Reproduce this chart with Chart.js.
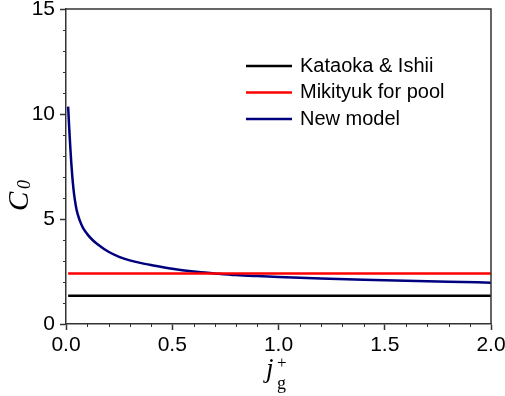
<!DOCTYPE html>
<html>
<head>
<meta charset="utf-8">
<script src="https://cdn.jsdelivr.net/npm/chart.js@4"></script>
<style>
    body { margin: 0; background: #fff; }
    #wrap { width: 505px; height: 396px; }
</style>
</head>
<body>
<div id="wrap"><canvas id="mychart" width="505" height="396"></canvas></div>
<script>
const jgPlus = [0.01, 0.0125, 0.015, 0.02, 0.025, 0.03, 0.035, 0.04, 0.05, 0.065, 0.08, 0.1, 0.125, 0.15, 0.2, 0.25,
    0.3, 0.35, 0.4, 0.5, 0.6, 0.7, 0.8, 0.9, 1.0, 1.2, 1.4, 1.6, 1.8, 2.0];
const newModel = [10.35, 9.85, 9.35, 8.45, 7.65, 6.98, 6.45, 6.03, 5.43, 4.92, 4.58, 4.28, 4.0, 3.79, 3.44, 3.2,
    3.03, 2.91, 2.81, 2.63, 2.5, 2.41, 2.33, 2.28, 2.24, 2.165, 2.105, 2.055, 2.01, 1.97];

const constX = [0.01, 2.0];
const kataokaIshii = [1.35, 1.35];
const mikityukPool = [2.4, 2.4];

const seriesLabels = ['Kataoka & Ishii', 'Mikityuk for pool', 'New model'];
const seriesColors = ['#000000', '#ff0000', '#00007f'];

const xTicks = [0.0, 0.5, 1.0, 1.5, 2.0];
const yTicks = [0, 5, 10, 15];

const toPoints = (xs, ys) => xs.map((x, i) => ({ x: x, y: ys[i] }));

const axisColor = '#333333';
const sansFont = '"Liberation Sans", Arial, sans-serif';
const serifFont = '"Liberation Serif", "Times New Roman", serif';

// top/right frame, minor ticks, legend, axis titles
const extrasPlugin = {
    id: 'extras',
    afterDraw: (chart) => {
        const ctx = chart.ctx;
        const area = chart.chartArea;
        const xs = chart.scales.x;
        const ys = chart.scales.y;
        ctx.save();

        ctx.strokeStyle = axisColor;
        ctx.lineWidth = 1.5;
        ctx.beginPath();
        ctx.moveTo(area.left, area.top);
        ctx.lineTo(area.right, area.top);
        ctx.lineTo(area.right, area.bottom);
        ctx.stroke();

        // minor ticks
        ctx.lineWidth = 1;
        ctx.beginPath();
        for (let v = 0.1; v < 2.0; v += 0.1) {
            if (Math.abs(v * 2 - Math.round(v * 2)) < 1e-6) continue;
            const px = Math.round(xs.getPixelForValue(v)) + 0.5;
            ctx.moveTo(px, area.bottom);
            ctx.lineTo(px, area.bottom + 3);
        }
        for (let v = 1; v < 15; v++) {
            if (v % 5 === 0) continue;
            const py = Math.round(ys.getPixelForValue(v)) + 0.5;
            ctx.moveTo(area.left, py);
            ctx.lineTo(area.left - 3, py);
        }
        ctx.stroke();

        // legend
        ctx.font = '20px ' + sansFont;
        ctx.textBaseline = 'middle';
        ctx.textAlign = 'left';
        chart.data.datasets.forEach((ds, i) => {
            const y = 66 + i * 26.5;
            ctx.strokeStyle = ds.borderColor;
            ctx.lineWidth = 2.5;
            ctx.beginPath();
            ctx.moveTo(246, y);
            ctx.lineTo(292, y);
            ctx.stroke();
            ctx.fillStyle = '#000';
            ctx.fillText(ds.label, 300, y);
        });

        // y title: C0
        ctx.fillStyle = '#000';
        ctx.textBaseline = 'alphabetic';
        ctx.save();
        ctx.translate(28, 200);
        ctx.rotate(-Math.PI / 2);
        ctx.font = 'italic 29px ' + serifFont;
        ctx.fillText('C', -11, 0);
        ctx.font = 'italic 18px ' + serifFont;
        ctx.fillText('0', 11, 2);
        ctx.restore();

        // x title: j_g^+
        ctx.font = 'italic 27px ' + serifFont;
        ctx.fillText('j', 266, 377);
        ctx.font = '17px ' + serifFont;
        ctx.fillText('+', 277, 368);
        ctx.font = '18px ' + serifFont;
        ctx.fillText('g', 277, 389);

        ctx.restore();
    }
};

const myChart = document.getElementById('mychart').getContext('2d');

new Chart(myChart, {
    type: 'line',
    data: {
        datasets: [{
            label: seriesLabels[0],
            data: toPoints(constX, kataokaIshii),
            borderColor: seriesColors[0],
            borderWidth: 2.5,
            pointRadius: 0
        }, {
            label: seriesLabels[1],
            data: toPoints(constX, mikityukPool),
            borderColor: seriesColors[1],
            borderWidth: 2.5,
            pointRadius: 0
        }, {
            label: seriesLabels[2],
            data: toPoints(jgPlus, newModel),
            borderColor: seriesColors[2],
            borderWidth: 2.5,
            pointRadius: 0,
            cubicInterpolationMode: 'monotone'
        }]
    },
    options: {
        responsive: false,
        animation: false,
        layout: {
            padding: { top: 9, right: 14, left: 0, bottom: 0 }
        },
        plugins: {
            legend: { display: false },
            tooltip: { enabled: false }
        },
        scales: {
            x: {
                type: 'linear',
                min: 0,
                max: 2,
                afterBuildTicks: (scale) => {
                    scale.ticks = xTicks.map((v) => ({ value: v }));
                },
                afterFit: (scale) => {
                    scale.height = 72;
                    scale.paddingLeft = 0;
                    scale.paddingRight = 0;
                },
                ticks: {
                    color: '#000',
                    font: { family: sansFont, size: 21 },
                    padding: 3,
                    maxRotation: 0,
                    callback: (v) => v.toFixed(1)
                },
                grid: {
                    drawOnChartArea: false,
                    drawTicks: true,
                    tickLength: 6,
                    tickColor: axisColor,
                    tickWidth: 1.5
                },
                border: { color: axisColor, width: 1.5 }
            },
            y: {
                type: 'linear',
                min: 0,
                max: 15,
                afterBuildTicks: (scale) => {
                    scale.ticks = yTicks.map((v) => ({ value: v }));
                },
                afterFit: (scale) => {
                    scale.width = 66;
                    scale.paddingTop = 0;
                    scale.paddingBottom = 0;
                },
                ticks: {
                    color: '#000',
                    font: { family: sansFont, size: 21 },
                    padding: 5,
                    callback: (v) => String(v)
                },
                grid: {
                    drawOnChartArea: false,
                    drawTicks: true,
                    tickLength: 6,
                    tickColor: axisColor,
                    tickWidth: 1.5
                },
                border: { color: axisColor, width: 1.5 }
            }
        }
    },
    plugins: [extrasPlugin]
});
</script>
</body>
</html>
